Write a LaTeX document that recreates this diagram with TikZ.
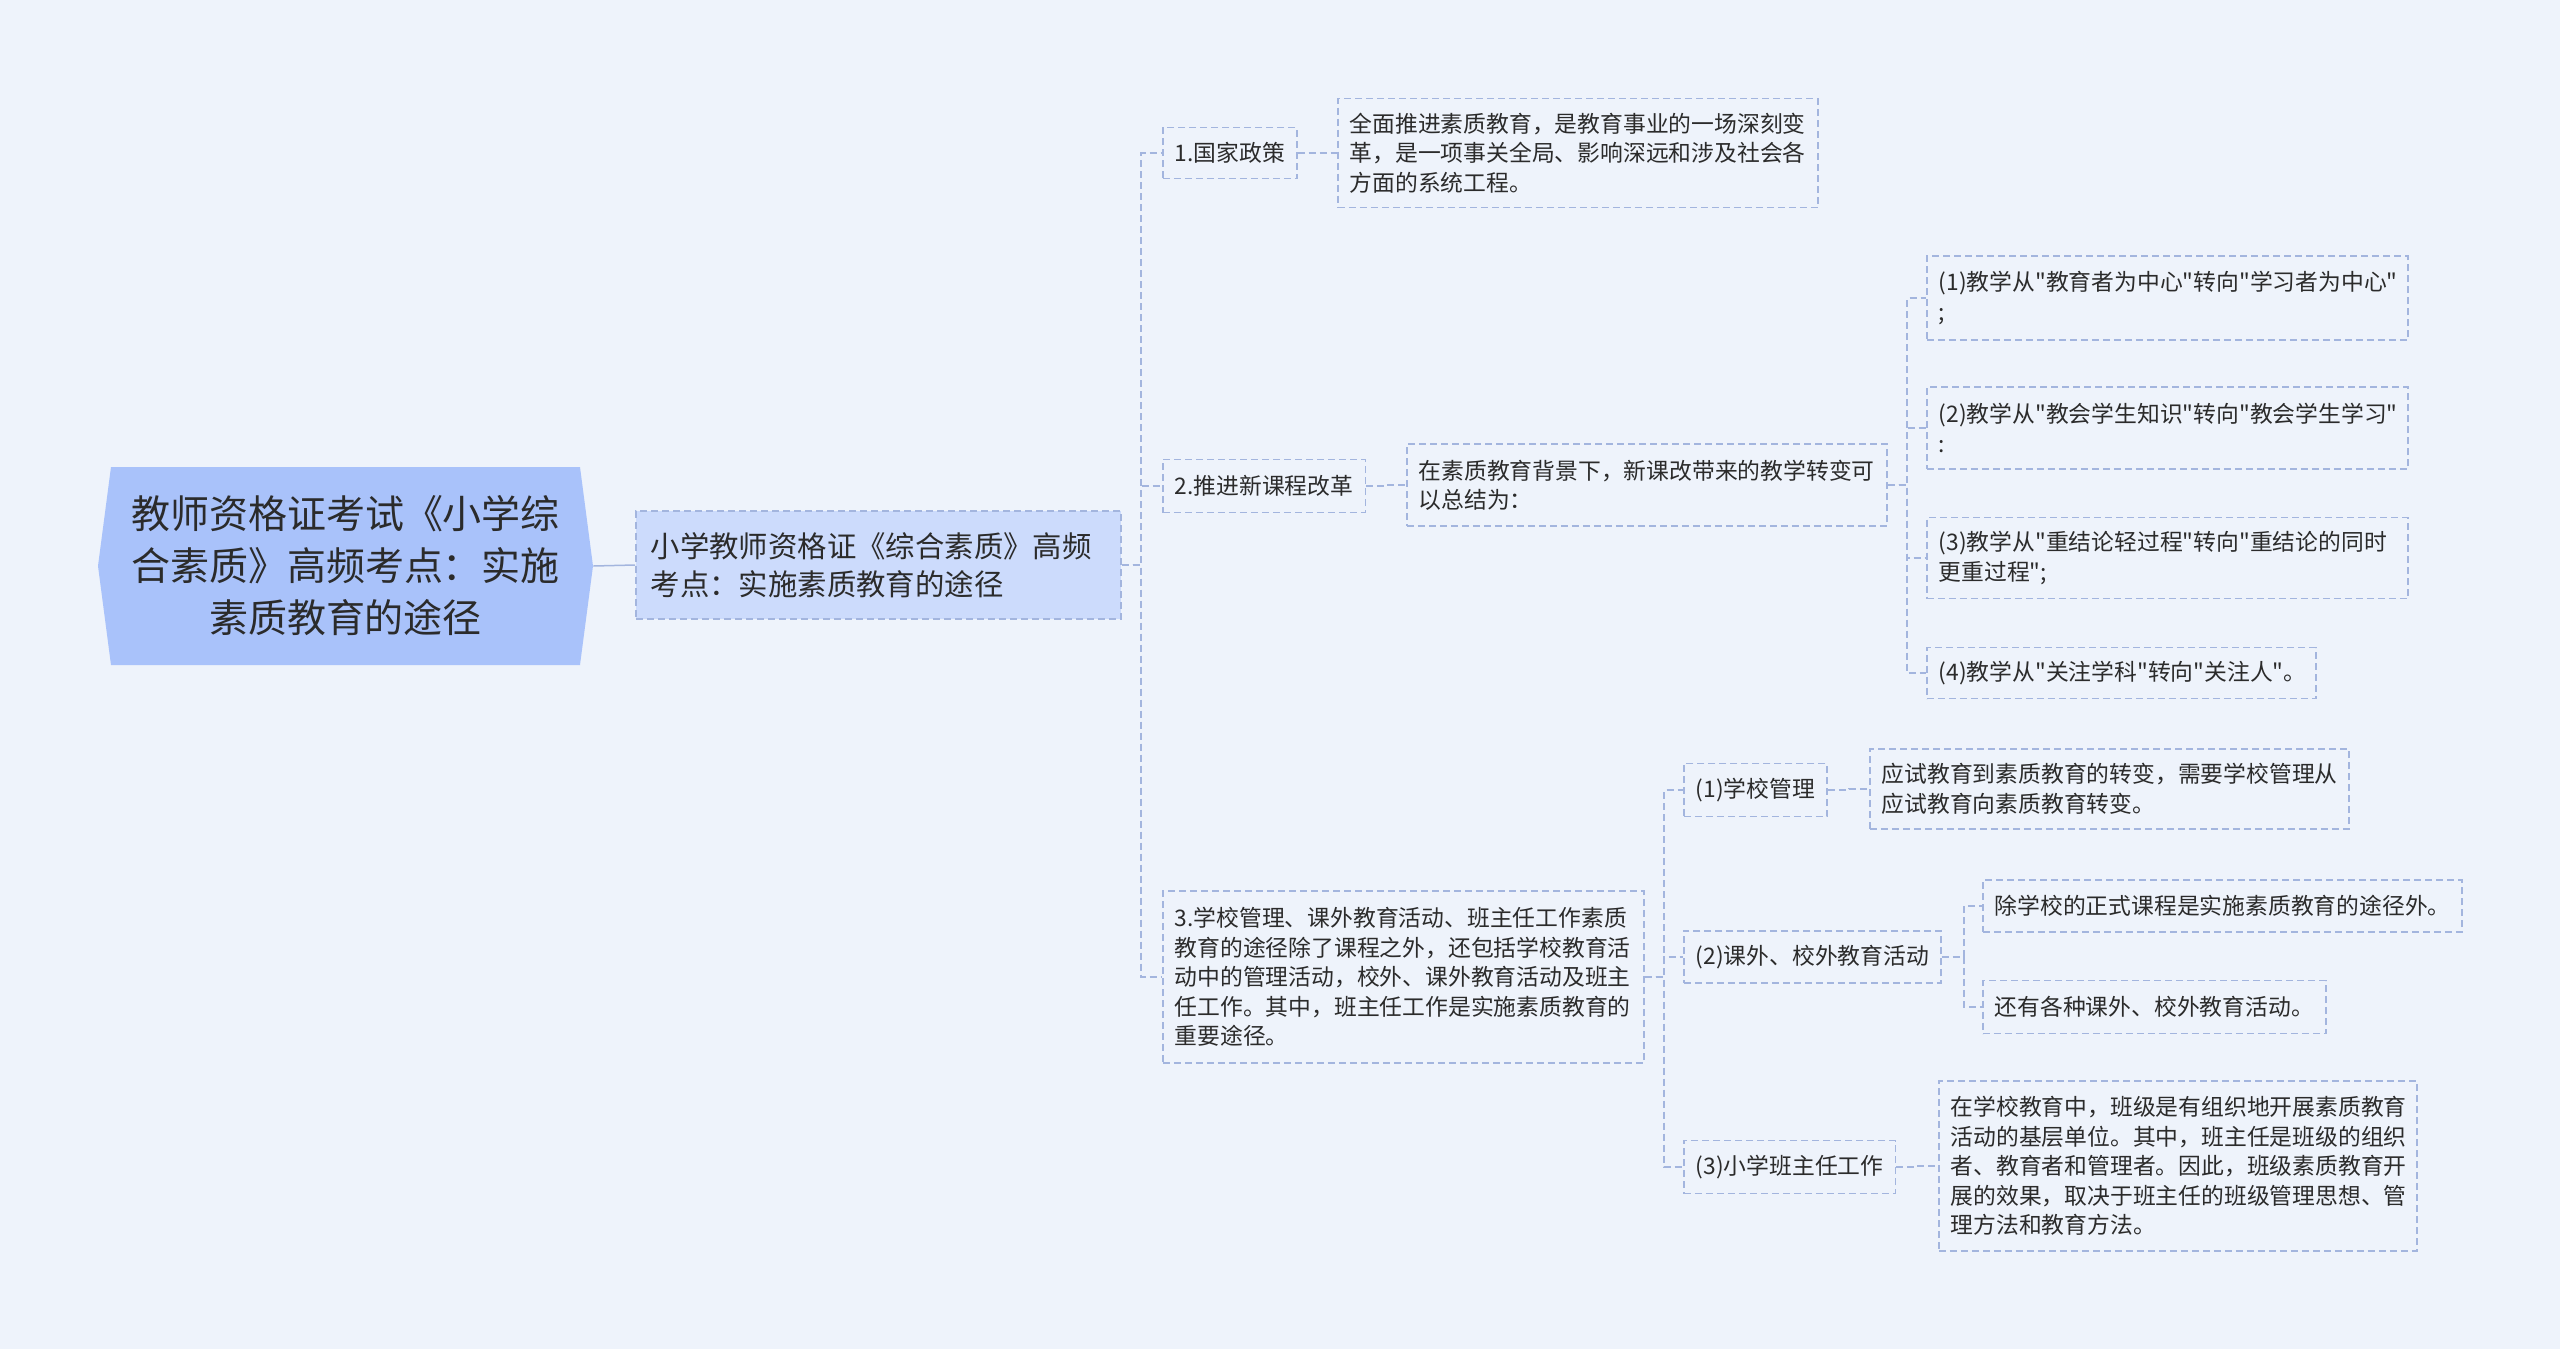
\documentclass[tikz,border=0pt]{standalone}
\usepackage{fontspec}
\setmainfont{Noto Sans CJK SC}[Ligatures=TeXOff]
\definecolor{bgc}{HTML}{EEF3FB}
\definecolor{rootc}{HTML}{A9C2FA}
\definecolor{lonec}{HTML}{CCDBFC}
\definecolor{bdc}{HTML}{A3B5DE}
\definecolor{txc}{HTML}{2B2B2B}
\newcommand\fsm{\fontsize{11.4pt}{14.7pt}\selectfont}
\newcommand\fmid{\fontsize{14.7pt}{19pt}\selectfont}
\newcommand\fbig{\fontsize{19.5pt}{26pt}\selectfont}
\tikzset{
  x=0.5pt, y=-0.5pt,
  box/.style={draw=bdc, line width=0.75pt, dash pattern=on 3.5pt off 2pt,
    anchor=west, align=left, font=\fsm, text=txc, inner xsep=6pt, inner ysep=0pt},
  conn/.style={draw=bdc, line width=0.75pt, dash pattern=on 3.5pt off 2pt},
}
\begin{document}
\begin{tikzpicture}
\useasboundingbox[fill=bgc] (0,0) rectangle (2560,1349);
% root
\fill[rootc] (98,566) -- (111,467) -- (580,467) -- (593,566) -- (580,665) -- (111,665) -- cycle;
\node[align=center, font=\fbig, text=txc, minimum width=247.5pt, minimum height=99pt, inner sep=0pt] (root) at (345.5,566)
  {教师资格证考试《小学综\\合素质》高频考点：实施\\素质教育的途径};
% level 1
\node[box, fill=lonec, font=\fmid, inner xsep=7.5pt, text width=227.5pt, minimum height=54pt] (l1) at (635,565)
  {小学教师资格证《综合素质》高频\\考点：实施素质教育的途径};
\draw[draw=bdc, line width=0.75pt] (root.east) -- (l1.west);
% trunk coordinates
\coordinate (tA) at (1141,0);
\coordinate (tB) at (1907,0);
\coordinate (tC) at (1664,0);
\coordinate (tD) at (1964,0);
% level 2
\node[box, minimum height=25.5pt] (n1) at (1162,153) {1.国家政策};
\node[box, text width=228pt, minimum height=54.5pt] (d1) at (1337,153)
  {全面推进素质教育，是教育事业的一场深刻变\\革，是一项事关全局、影响深远和涉及社会各\\方面的系统工程。};
\node[box, minimum height=26.5pt] (n2) at (1162,486) {2.推进新课程改革};
\node[box, text width=228pt, minimum height=41pt] (d2) at (1406,485)
  {在素质教育背景下，新课改带来的教学转变可\\以总结为：};
\node[box, text width=228.5pt, minimum height=42pt] (s1) at (1926,298)
  {(1)教学从"教育者为中心"转向"学习者为中心"\\;};
\node[box, text width=228.5pt, minimum height=41pt] (s2) at (1926,428)
  {(2)教学从"教会学生知识"转向"教会学生学习"\\:};
\node[box, text width=228.5pt, minimum height=40.5pt] (s3) at (1926,558)
  {(3)教学从"重结论轻过程"转向"重结论的同时\\更重过程";};
\node[box, text width=182.5pt, minimum height=25.5pt] (s4) at (1926,673)
  {(4)教学从"关注学科"转向"关注人"。};
\node[box, text width=228.5pt, minimum height=86pt] (n3) at (1162,977)
  {3.学校管理、课外教育活动、班主任工作素质\\教育的途径除了课程之外，还包括学校教育活\\动中的管理活动，校外、课外教育活动及班主\\任工作。其中，班主任工作是实施素质教育的\\重要途径。};
\node[box, minimum height=26.5pt] (t1) at (1683,790) {(1)学校管理};
\node[box, text width=227.5pt, minimum height=40pt] (t1d) at (1869,789)
  {应试教育到素质教育的转变，需要学校管理从\\应试教育向素质教育转变。};
\node[box, minimum height=26pt] (t2) at (1683,957) {(2)课外、校外教育活动};
\node[box, text width=227.5pt, minimum height=26pt] (t2a) at (1982,906)
  {除学校的正式课程是实施素质教育的途径外。};
\node[box, text width=159.5pt, minimum height=26.5pt] (t2b) at (1982,1007)
  {还有各种课外、校外教育活动。};
\node[box, minimum height=26.5pt] (t3) at (1683,1167) {(3)小学班主任工作};
\node[box, text width=227pt, minimum height=85pt] (t3d) at (1938,1166)
  {在学校教育中，班级是有组织地开展素质教育\\活动的基层单位。其中，班主任是班级的组织\\者、教育者和管理者。因此，班级素质教育开\\展的效果，取决于班主任的班级管理思想、管\\理方法和教育方法。};
% connectors
\foreach \c in {n1,n2,n3} \draw[conn] (l1.east) -- (l1.east -| tA) |- (\c.west);
\draw[conn] (n1.east) -- ++(20,0) |- (d1.west);
\draw[conn] (n2.east) -- ++(20,0) |- (d2.west);
\foreach \c in {s1,s2,s3,s4} \draw[conn] (d2.east) -- (d2.east -| tB) |- (\c.west);
\foreach \c in {t1,t2,t3} \draw[conn] (n3.east) -- (n3.east -| tC) |- (\c.west);
\draw[conn] (t1.east) -- ++(21,0) |- (t1d.west);
\foreach \c in {t2a,t2b} \draw[conn] (t2.east) -- (t2.east -| tD) |- (\c.west);
\draw[conn] (t3.east) -- ++(20,0) |- (t3d.west);
\end{tikzpicture}
\end{document}
